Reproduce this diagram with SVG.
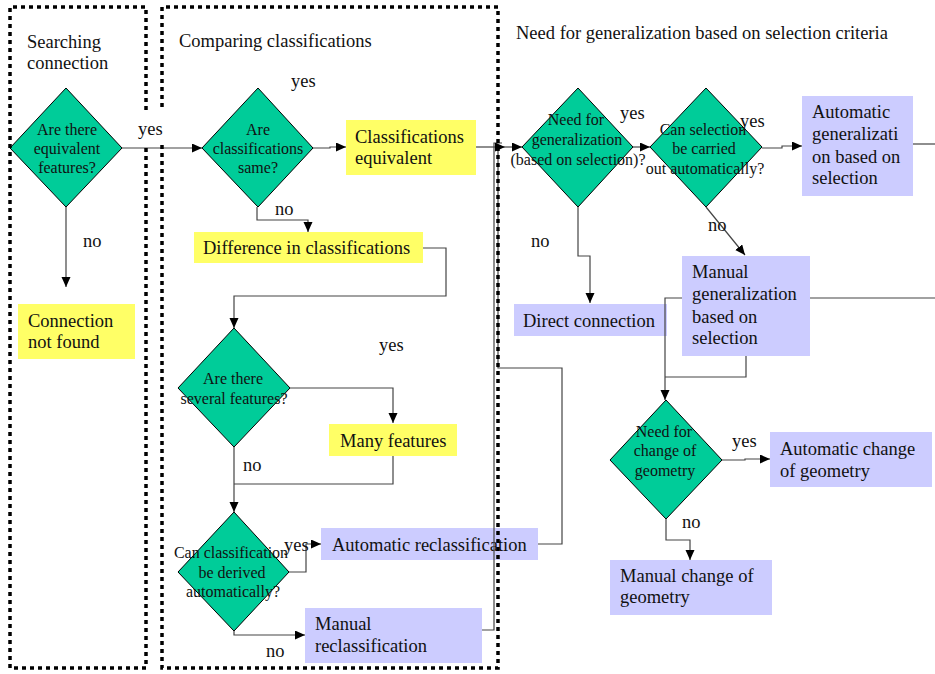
<svg xmlns="http://www.w3.org/2000/svg" width="935" height="674" viewBox="0 0 935 674">
  <defs>
    <marker id="arrow" markerUnits="userSpaceOnUse" markerWidth="11" markerHeight="10" refX="10" refY="4.5" orient="auto">
      <path d="M0,0 L10,4.5 L0,9 z" fill="#000"/>
    </marker>
    <style>
      text { font-family: "Liberation Serif", "Times New Roman", serif; fill: #111; }
      .hdr { font-size: 18.5px; }
      .lbl { font-size: 18.5px; }
      .box text { font-size: 18.5px; }
      .dia text { font-size: 16px; text-anchor: middle; }
      .dia polygon { fill: #00CC99; stroke: #000; stroke-width: 1; }
      .yellow { fill: #FFFF66; }
      .blue { fill: #CCCCFF; }
      .conn path { fill: none; stroke: #444; stroke-width: 1.2; }
      .conn path.arr { marker-end: url(#arrow); }
      .frame { fill: none; stroke: #000; stroke-width: 3.5; stroke-dasharray: 4 4; }
    </style>
  </defs>

  <rect width="935" height="674" fill="#fff"/>

  <!-- section headings -->
  <g id="headings">
    <text class="hdr" x="27" y="48">Searching</text>
    <text class="hdr" x="27" y="69">connection</text>
    <text class="hdr" x="179" y="47">Comparing classifications</text>
    <text class="hdr" x="516" y="39">Need for generalization based on selection criteria</text>
  </g>

  <!-- decisions -->
  <g id="d-equivalent" class="dia">
    <polygon points="66,88 122,148 66,207 10,148"/>
    <text x="67" y="135">Are there</text>
    <text x="67" y="154">equivalent</text>
    <text x="67" y="173">features?</text>
  </g>
  <g id="d-same" class="dia">
    <polygon points="258,88 313,148 258,207 202,148"/>
    <text x="258" y="135">Are</text>
    <text x="258" y="154">classifications</text>
    <text x="258" y="173">same?</text>
  </g>
  <g id="d-several" class="dia">
    <polygon points="234,328 290,388 234,447 178,388"/>
    <text x="233" y="384">Are there</text>
    <text x="234" y="404">several features?</text>
  </g>
  <g id="d-derived" class="dia">
    <polygon points="234,512 289,572 234,631 178,572"/>
    <text x="231" y="558">Can classification</text>
    <text x="232" y="578">be derived</text>
    <text x="233" y="597">automatically?</text>
  </g>
  <g id="d-need-gen" class="dia">
    <polygon points="578,88 633,147 578,207 522,147"/>
    <text x="576" y="125">Need for</text>
    <text x="577" y="145">generalization</text>
    <text x="578" y="165">(based on selection)?</text>
  </g>
  <g id="d-can-select" class="dia">
    <polygon points="706,88 762,147 706,207 650,147"/>
    <text x="703" y="135">Can selection</text>
    <text x="704" y="154">be carried</text>
    <text x="705" y="174">out automatically?</text>
  </g>
  <g id="d-geometry" class="dia">
    <polygon points="666,400 722,460 666,519 610,460"/>
    <text x="664" y="437">Need for</text>
    <text x="665" y="456">change of</text>
    <text x="665" y="476">geometry</text>
  </g>

  <!-- outcome boxes -->
  <g id="b-not-found" class="box">
    <rect class="yellow" x="18" y="304" width="117" height="55"/>
    <text x="28" y="327">Connection</text>
    <text x="28" y="348">not found</text>
  </g>
  <g id="b-equivalent" class="box">
    <rect class="yellow" x="346" y="120" width="130" height="55"/>
    <text x="355" y="143">Classifications</text>
    <text x="355" y="164">equivalent</text>
  </g>
  <g id="b-difference" class="box">
    <rect class="yellow" x="194" y="232" width="229" height="31"/>
    <text x="203" y="254">Difference in classifications</text>
  </g>
  <g id="b-many" class="box">
    <rect class="yellow" x="329" y="424" width="128" height="32"/>
    <text x="340" y="447">Many features</text>
  </g>
  <g id="b-auto-reclass" class="box">
    <rect class="blue" x="321" y="528" width="217" height="32"/>
    <text x="332" y="551">Automatic reclassification</text>
  </g>
  <g id="b-manual-reclass" class="box">
    <rect class="blue" x="305" y="608" width="177" height="55"/>
    <text x="315" y="630">Manual</text>
    <text x="315" y="652">reclassification</text>
  </g>
  <g id="b-direct" class="box">
    <rect class="blue" x="514" y="304" width="153" height="32"/>
    <text x="523" y="327">Direct connection</text>
  </g>
  <g id="b-auto-gen" class="box">
    <rect class="blue" x="802" y="96" width="111" height="100"/>
    <text x="812" y="118">Automatic</text>
    <text x="812" y="140">generalizati</text>
    <text x="812" y="163">on based on</text>
    <text x="812" y="184">selection</text>
  </g>
  <g id="b-manual-gen" class="box">
    <rect class="blue" x="682" y="256" width="128" height="100"/>
    <text x="692" y="278">Manual</text>
    <text x="692" y="300">generalization</text>
    <text x="692" y="323">based on</text>
    <text x="692" y="344">selection</text>
  </g>
  <g id="b-auto-geom" class="box">
    <rect class="blue" x="770" y="432" width="162" height="55"/>
    <text x="780" y="455">Automatic change</text>
    <text x="780" y="477">of geometry</text>
  </g>
  <g id="b-manual-geom" class="box">
    <rect class="blue" x="610" y="560" width="162" height="55"/>
    <text x="620" y="582">Manual change of</text>
    <text x="620" y="603">geometry</text>
  </g>

  <!-- connectors -->
  <g id="connectors" class="conn">
    <path class="arr" d="M122,148 H202"/>
    <path class="arr" d="M66,207 V287"/>
    <path class="arr" d="M313,148 H330 V147 H346"/>
    <path class="arr" d="M257,207 V220 H308 V232"/>
    <path class="arr" d="M423,248 H446 V296 H234 V328"/>
    <path class="arr" d="M290,388 H393 V423"/>
    <path d="M393,456 V484 H234"/>
    <path class="arr" d="M234,447 V512"/>
    <path class="arr" d="M289,572 H306 V544 H321"/>
    <path class="arr" d="M234,631 V635 H305"/>
    <path d="M538,544 H562 V368 H498 V147"/>
    <path d="M482,630 H494 V143 H502"/>
    <path class="arr" d="M476,147 H505"/>
    <path class="arr" d="M505,147 H522"/>
    <path class="arr" d="M633,147 H650"/>
    <path class="arr" d="M578,207 V256 H590 V303"/>
    <path class="arr" d="M762,148 H782 V146 H802"/>
    <path class="arr" d="M706,207 L745,255"/>
    <path d="M913,144 H935"/>
    <path d="M810,298 H935"/>
    <path class="arr" d="M682,298 H665 V400"/>
    <path d="M746,356 V377 H665"/>
    <path class="arr" d="M722,460 H745 V459 H770"/>
    <path class="arr" d="M666,519 V540 H690 V560"/>
  </g>

  <!-- branch labels -->
  <g id="labels" class="lbl">
    <text class="lbl" x="138" y="135">yes</text>
    <text class="lbl" x="83" y="247">no</text>
    <text class="lbl" x="291" y="87">yes</text>
    <text class="lbl" x="275" y="215">no</text>
    <text class="lbl" x="379" y="351">yes</text>
    <text class="lbl" x="243" y="471">no</text>
    <text class="lbl" x="284" y="551">yes</text>
    <text class="lbl" x="266" y="657">no</text>
    <text class="lbl" x="620" y="119">yes</text>
    <text class="lbl" x="531" y="247">no</text>
    <text class="lbl" x="740" y="127">yes</text>
    <text class="lbl" x="708" y="231">no</text>
    <text class="lbl" x="732" y="447">yes</text>
    <text class="lbl" x="682" y="528">no</text>
  </g>

  <!-- dotted section frames -->
  <g id="frames">
    <path class="frame" d="M146,110 V7 H10 V668 H146 V145"/>
    <path class="frame" d="M162,107 V7 H498 V668 H162 V145"/>
  </g>
</svg>
